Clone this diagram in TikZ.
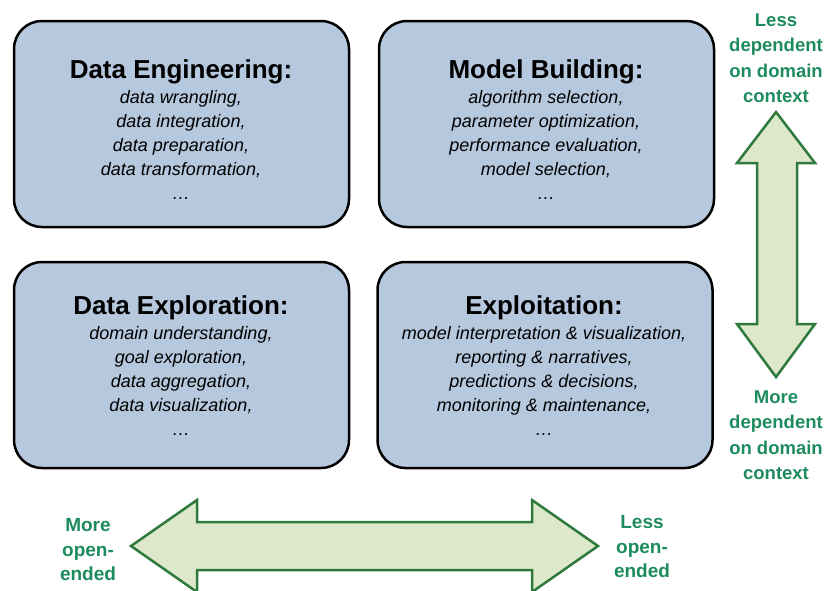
\documentclass[tikz,border=0pt]{standalone}
\usepackage{fontspec}
\setmainfont{Liberation Sans}
\usetikzlibrary{positioning}

\definecolor{boxblue}{HTML}{B6C8DD}
\definecolor{hintgreen}{HTML}{1E8B5E}
\definecolor{arrowline}{HTML}{2E7A3C}
\definecolor{arrowfill}{HTML}{DDE7CA}

\begin{document}
\begin{tikzpicture}[x=1pt, y=-1pt,
    box/.style = {draw=black, line width=2.5pt, fill=boxblue, rounded corners=28pt,
                  minimum width=335pt, minimum height=206pt},
    title/.style = {font=\fontsize{26}{28}\selectfont\bfseries, inner sep=0pt},
    items/.style = {font=\fontsize{18}{24}\selectfont\itshape, align=center, inner sep=0pt},
    hint/.style = {font=\fontsize{18.5}{25.5}\selectfont\bfseries, text=hintgreen,
                   align=center, inner sep=0pt},
    bigarrow/.style = {draw=arrowline, line width=2.5pt, fill=arrowfill, line join=miter}]
    \useasboundingbox (0,0) rectangle (826,590);

    % four stages
    \node[box] (eng) at (181.5,124) {};
    \node[box] (build) at (546.5,124) {};
    \node[box] (explore) at (181.5,365) {};
    \node[box] (exploit) at (545,365) {};

    \node[title, anchor=base] (engT) at (181,78) {Data Engineering:};
    \node[items] (engL) [below=12pt of engT.base] {data wrangling,\\ data integration,\\ data preparation,\\ data transformation,\\ \dots};

    \node[title, anchor=base] (buildT) at (546,78) {Model Building:};
    \node[items] (buildL) [below=12pt of buildT.base] {algorithm selection,\\ parameter optimization,\\ performance evaluation,\\ model selection,\\ \dots};

    \node[title, anchor=base] (exploreT) at (181,314) {Data Exploration:};
    \node[items] (exploreL) [below=12pt of exploreT.base] {domain understanding,\\ goal exploration,\\ data aggregation,\\ data visualization,\\ \dots};

    \node[title, anchor=base] (exploitT) at (544,314) {Exploitation:};
    \node[items] (exploitL) [below=12pt of exploitT.base] {model interpretation \& visualization,\\ reporting \& narratives,\\ predictions \& decisions,\\ monitoring \& maintenance,\\ \dots};

    % domain context axis
    \draw[bigarrow] (776,112) -- (815,163) -- (797,163) -- (797,324) -- (815,324)
        -- (776,377) -- (737,324) -- (757,324) -- (757,163) -- (737,163) -- cycle;
    \node[hint] (less) at (776,58) {Less\\ dependent\\ on domain\\ context};
    \node[hint] (more) at (776,435) {More\\ dependent\\ on domain\\ context};

    % open-endedness axis
    \draw[bigarrow] (131,546) -- (197,500) -- (197,522) -- (532,522) -- (532,500)
        -- (598,546) -- (532,592) -- (532,570) -- (197,570) -- (197,592) -- cycle;
    \node[hint, font=\fontsize{19}{24.5}\selectfont\bfseries] (open) at (88,550) {More\\ open-\\ ended};
    \node[hint, font=\fontsize{19}{24.5}\selectfont\bfseries] (closed) at (642,547) {Less\\ open-\\ ended};
\end{tikzpicture}
\end{document}
